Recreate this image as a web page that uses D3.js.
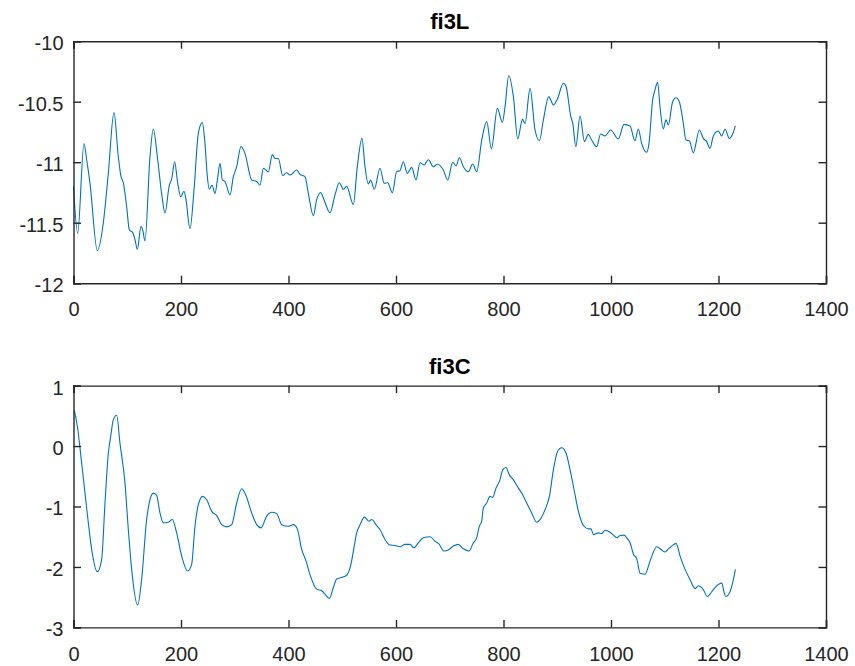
<!DOCTYPE html>
<html>
<head>
<meta charset="utf-8">
<script src="https://cdn.jsdelivr.net/npm/d3@7"></script>
<style>
  html, body { margin: 0; padding: 0; background: #ffffff; }
  svg { display: block; font-family: "Liberation Sans", Arial, Helvetica, sans-serif; }
</style>
</head>
<body>
<svg id="chart" width="855" height="666"></svg>
<script>
// Shared x-axis ticks
const xTicks = [0, 200, 400, 600, 800, 1000, 1200, 1400];

// fi3L series
const topTitle = "fi3L";
const topYTicks = [-12, -11.5, -11, -10.5, -10];
const topX = [0, 7.8, 19.5, 24.5, 30.7, 44.3, 55.5, 64.8, 75.3, 83.4, 88.4, 92.7, 99, 103.9, 110, 114.4, 118.8, 125.6, 128.7, 133,
  142.3, 148.5, 156, 164, 170.2, 178.3, 182.6, 188.2, 193.2, 199.4, 205.6, 209.3, 216.7, 224.2, 232.3, 239.7, 244.6, 249, 252.7, 257.7,
  263.3, 267.6, 272.6, 276.9, 281.9, 291.2, 297.4, 303.6, 311.6, 319, 331.5, 340.8, 347, 353.2, 358.1, 362.5, 369.9, 374.9, 381.1, 389.2,
  396.6, 402.8, 415.2, 421.4, 430.7, 436.9, 446.2, 452.4, 459.8, 466, 477.2, 486.5, 494.6, 502, 508.2, 520.6, 528, 536.7, 542.3, 548.5,
  552.8, 559.6, 570.2, 578.2, 584.5, 593.2, 601.2, 607.5, 613.6, 621.1, 629.2, 637.2, 644.7, 652.2, 660.2, 669.5, 677, 688.1, 696.2, 705.5,
  711.7, 717.9, 725.3, 734.6, 742.7, 750.2, 759.5, 768.8, 777.5, 788.6, 797.9, 802.9, 809.7, 818.4, 826.5, 835.2, 840.1, 849.4, 858.7, 866.8,
  874.2, 884.2, 892.9, 900.3, 911.5, 916.5, 925.2, 928.9, 934.5, 942.5, 950.6, 957.8, 964, 973.3, 980.7, 988.8, 999.4, 1013.6, 1024.2, 1035.4,
  1044.6, 1050.8, 1057, 1066.3, 1070.7, 1077.5, 1081.8, 1086.8, 1091.1, 1097.3, 1102.3, 1106.6, 1114.7, 1120.9, 1127.1, 1134.6, 1139.5, 1145.7, 1153.2, 1164.4,
  1171.8, 1178, 1184.2, 1190.4, 1199.7, 1205.9, 1212.1, 1220.2, 1226.4, 1231.3];
const topY = [-11.2, -11.588, -10.845, -10.98, -11.175, -11.73, -11.5, -11.09, -10.59, -10.955, -11.12, -11.17, -11.37, -11.56, -11.58, -11.64, -11.72, -11.53, -11.56, -11.65,
  -10.955, -10.725, -10.955, -11.26, -11.42, -11.19, -11.14, -10.996, -11.15, -11.285, -11.24, -11.31, -11.55, -11.23, -10.76, -10.673, -10.845, -11.12, -11.224, -11.19,
  -11.258, -11.147, -11.01, -11.147, -11.16, -11.27, -11.12, -11.037, -10.87, -10.927, -11.147, -11.16, -11.19, -11.05, -11.065, -11.08, -10.937, -10.97, -10.97, -11.11,
  -11.087, -11.106, -11.065, -11.1, -11.12, -11.257, -11.442, -11.31, -11.25, -11.31, -11.417, -11.27, -11.17, -11.224, -11.2, -11.35, -11.037, -10.803, -11.037, -11.18,
  -11.147, -11.224, -11.05, -11.175, -11.17, -11.252, -11.078, -11.07, -10.996, -11.092, -11.043, -11.147, -11.004, -11.023, -10.98, -11.037, -11.017, -11.065, -11.147, -11.0,
  -11.03, -10.963, -11.037, -11.078, -11.015, -11.078, -10.817, -10.665, -10.89, -10.555, -10.67, -10.54, -10.285, -10.458, -10.808, -10.646, -10.68, -10.39, -10.734, -10.822,
  -10.65, -10.458, -10.527, -10.477, -10.348, -10.376, -10.624, -10.68, -10.872, -10.618, -10.83, -10.77, -10.817, -10.872, -10.767, -10.783, -10.734, -10.808, -10.687, -10.7,
  -10.822, -10.725, -10.844, -10.918, -10.844, -10.486, -10.403, -10.34, -10.54, -10.725, -10.65, -10.693, -10.5, -10.467, -10.5, -10.68, -10.817, -10.822, -10.921, -10.734,
  -10.803, -10.83, -10.885, -10.783, -10.742, -10.783, -10.728, -10.803, -10.767, -10.7];

// fi3C series
const botTitle = "fi3C";
const botYTicks = [-3, -2, -1, 0, 1];
const botX = [1.6, 7.8, 15.2, 21.4, 27.6, 33.8, 44.3, 52.4, 58.6, 64.8, 69.1, 74.1, 80.3, 86.5, 95.8, 102, 108.2, 119.4, 126.8, 136.1,
  142.3, 148.5, 154.7, 160.9, 167.1, 176.4, 183.9, 191.9, 201.2, 212.4, 219.8, 226, 232.3, 240.3, 247.8, 257.1, 266.4, 275.7, 285, 294.3,
  303.6, 312.9, 320.3, 331.5, 340.8, 348.8, 359.4, 368.7, 378, 387.3, 399.7, 409, 416.4, 424.5, 432.6, 438.8, 452.4, 461.7, 467.9, 476,
  483.4, 489.6, 498.9, 508.2, 515.6, 521.8, 526.8, 531.8, 536.1, 541.1, 549.8, 554.7, 564, 570.2, 579.5, 588.8, 598.1, 607.4, 616.7, 626,
  633.5, 641.5, 650.8, 663.3, 672.6, 680.6, 689.3, 697.4, 706.7, 716, 725.3, 735.8, 743.9, 750.1, 755.1, 759.4, 762.5, 768.7, 774.9, 779.9,
  786.1, 793.5, 798.5, 804.7, 810.9, 818.4, 827.7, 833.9, 843.2, 852.5, 861.8, 868, 877.3, 885.4, 892.8, 900.3, 908.3, 916.4, 923.9, 931.3,
  939.4, 948.7, 957.8, 962.8, 967.2, 976.5, 982.7, 988.9, 998.2, 1004.5, 1010.7, 1016.9, 1024.3, 1029.3, 1035.5, 1041.7, 1047.9, 1054.1, 1063.4, 1072.7,
  1085.1, 1094.4, 1100.6, 1106.8, 1113, 1121.1, 1128.5, 1137.8, 1147.1, 1156.4, 1162.6, 1171.9, 1179.3, 1187.4, 1193.6, 1206, 1210.4, 1213.5, 1221.5, 1226.5,
  1231.5];
const botY = [0.592, 0.29, -0.285, -0.778, -1.27, -1.71, -2.08, -1.874, -0.942, -0.12, 0.153, 0.438, 0.51, 0.044, -0.614, -1.38, -2.04, -2.63, -2.2, -1.216,
  -0.888, -0.778, -0.816, -1.107, -1.27, -1.26, -1.216, -1.436, -1.82, -2.066, -1.956, -1.326, -0.97, -0.833, -0.888, -1.08, -1.15, -1.3, -1.337, -1.3,
  -0.942, -0.707, -0.805, -1.107, -1.3, -1.353, -1.16, -1.096, -1.118, -1.3, -1.326, -1.3, -1.37, -1.71, -1.9, -2.093, -2.367, -2.394, -2.45, -2.52,
  -2.34, -2.2, -2.175, -2.137, -1.98, -1.68, -1.436, -1.326, -1.244, -1.173, -1.244, -1.216, -1.315, -1.38, -1.545, -1.638, -1.644, -1.666, -1.627, -1.627,
  -1.682, -1.6, -1.518, -1.5, -1.573, -1.627, -1.737, -1.72, -1.655, -1.627, -1.7, -1.737, -1.6, -1.518, -1.326, -1.244, -1.025, -0.942, -0.833, -0.849,
  -0.696, -0.559, -0.395, -0.356, -0.477, -0.559, -0.696, -0.778, -0.942, -1.107, -1.26, -1.216, -1.052, -0.833, -0.395, -0.093, -0.027, -0.12, -0.395, -0.723,
  -1.079, -1.315, -1.37, -1.37, -1.463, -1.436, -1.447, -1.392, -1.425, -1.474, -1.518, -1.48, -1.474, -1.518, -1.6, -1.79, -1.863, -2.104, -2.12, -1.9,
  -1.666, -1.72, -1.753, -1.7, -1.655, -1.61, -1.82, -2.04, -2.21, -2.356, -2.312, -2.378, -2.49, -2.41, -2.34, -2.268, -2.42, -2.49, -2.41, -2.257,
  -2.04];

const svg = d3.select("#chart");
const lineColor = "#0072BD";
const axisColor = "#262626";
const left = 73.5, right = 826;
const tickLen = 7.5;
const fontFamily = '"Liberation Sans", Arial, sans-serif';

function panel(title, xs, ys, yDomain, yTicks, top, bottom, curve) {
  const x = d3.scaleLinear().domain([0, 1400]).range([left, right]);
  const y = d3.scaleLinear().domain(yDomain).range([bottom, top]);
  const g = svg.append("g");
  const pts = xs.map((v, i) => [v, ys[i]]);

  g.append("path")
    .datum(pts)
    .attr("fill", "none")
    .attr("stroke", lineColor)
    .attr("stroke-width", 1.1)
    .attr("stroke-linejoin", "round")
    .attr("d", d3.line().x(d => x(d[0])).y(d => y(d[1])).curve(curve));

  // Box-style axes with inward ticks on all four sides
  const bottomAx = d3.axisBottom(x).tickValues(xTicks).tickSize(-tickLen).tickPadding(19).tickFormat(d3.format("d"));
  const topAx = d3.axisTop(x).tickValues(xTicks).tickSize(-tickLen).tickFormat("");
  const leftAx = d3.axisLeft(y).tickValues(yTicks).tickSize(-tickLen).tickPadding(10).tickFormat(d => String(d));
  const rightAx = d3.axisRight(y).tickValues(yTicks).tickSize(-tickLen).tickFormat("");

  const axes = [
    [bottomAx, `translate(0,${bottom})`],
    [topAx, `translate(0,${top})`],
    [leftAx, `translate(${left},0)`],
    [rightAx, `translate(${right},0)`]
  ];
  axes.forEach(([ax, tr]) => {
    const a = g.append("g").attr("transform", tr).call(ax);
    a.select(".domain").attr("stroke", axisColor).attr("stroke-width", 1.4);
    a.selectAll(".tick line").attr("stroke", axisColor).attr("stroke-width", 1.4);
    a.selectAll(".tick text").attr("fill", axisColor).style("font-size", "20px")
      .style("font-family", fontFamily);
  });
  g.selectAll(".tick text").filter(function () { return this.getAttribute("x") && +this.getAttribute("x") < 0; })
    .attr("dy", "0.42em");

  g.append("text")
    .attr("x", (left + right) / 2)
    .attr("y", top - 12)
    .attr("text-anchor", "middle")
    .attr("fill", "#000")
    .style("font-size", "22px")
    .style("font-weight", "bold")
    .style("font-family", fontFamily)
    .text(title);
}

panel(topTitle, topX, topY, [-12, -10], topYTicks, 41.2, 283.2, d3.curveMonotoneX);
panel(botTitle, botX, botY, [-3, 1], botYTicks, 385.6, 627.4, d3.curveMonotoneX);
</script>
</body>
</html>
